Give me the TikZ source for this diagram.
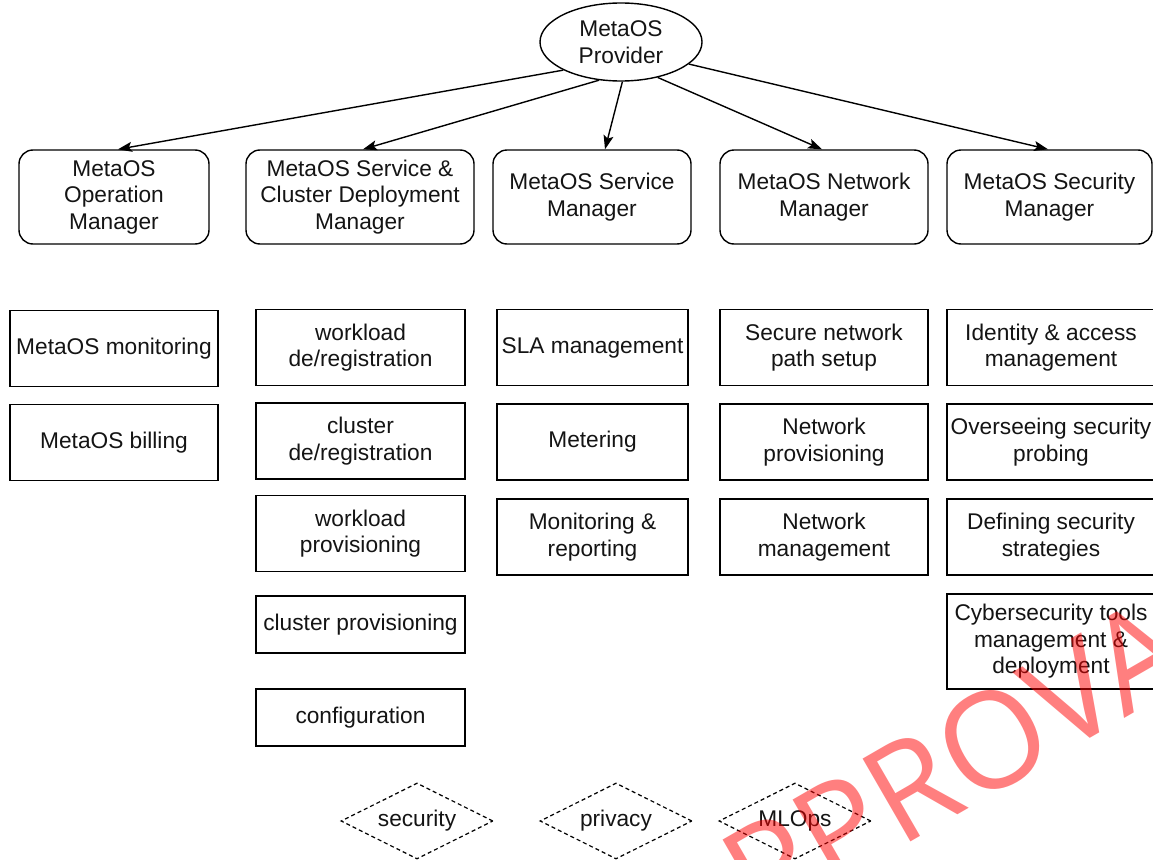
\documentclass[tikz,border=0pt]{standalone}
\usepackage{fontspec}
\setmainfont{Liberation Sans}
\newfontfamily\wmfont{Open Sans}
\usetikzlibrary{shapes.geometric,arrows.meta,calc}

\begin{document}
\begin{tikzpicture}[x=1pt,y=-1pt,
  every node/.style={font=\fontsize{22.7}{26.5}\selectfont, align=center,
    inner sep=0pt, text=black!92},
  mgr/.style={draw, line width=1.4pt, rounded corners=14pt, minimum height=94pt},
  task/.style={draw, line width=1.4pt, minimum height=76pt},
  tag/.style={draw, diamond, shape aspect=2, line width=1.2pt,
    dash pattern=on 4pt off 3pt, minimum width=152pt, minimum height=76pt},
  arr/.style={line width=1.4pt, -{Stealth[length=14pt,width=10pt,inset=3pt]}},
  stamp/.style={text=red, opacity=0.5,
    font=\wmfont\fontsize{134}{134}\selectfont}
]
\useasboundingbox (0,0) rectangle (1153,859);
\clip (0,0) rectangle (1153,859);
\fill[white] (0,0) rectangle (1153,859);

% root
\node[draw, ellipse, line width=1.4pt, minimum width=162pt, minimum height=78pt]
  (prov) at (621,42) {MetaOS\\Provider};

% managers
\node[mgr, minimum width=190pt] (om)   at (114,197)    {MetaOS\\Operation\\Manager};
\node[mgr, minimum width=228pt] (sd)   at (360,197)    {MetaOS Service \&\\Cluster Deployment\\Manager};
\node[mgr, minimum width=198pt] (sm)   at (592,197)    {MetaOS Service\\Manager};
\node[mgr, minimum width=208pt] (nm)   at (824,197)    {MetaOS Network\\Manager};
\node[mgr, minimum width=205pt] (secm) at (1049.5,197) {MetaOS Security\\Manager};

% root to managers
\draw[arr] (prov.206) -- ($(om.north)+(4,0)$);
\draw[arr] (prov.240) -- ($(sd.north)+(3,0)$);
\draw[arr] (prov.272) -- ($(sm.north)+(13,0)$);
\draw[arr] (prov.316) -- ($(nm.north)+(-2,0)$);
\draw[arr] (prov.342) -- ($(secm.north)+(-1.5,0)$);

% operation tasks
\node[task, minimum width=208pt] (om1) at (114,348.5) {MetaOS monitoring};
\node[task, minimum width=208pt] (om2) at (114,442.5) {MetaOS billing};

% service & cluster deployment tasks
\node[task, minimum width=209pt] (sd1) at (360.5,347.5) {workload\\de/registration};
\node[task, minimum width=209pt] (sd2) at (360.5,441)   {cluster\\de/registration};
\node[task, minimum width=209pt] (sd3) at (360.5,533.5) {workload\\provisioning};
\node[task, minimum width=209pt, minimum height=57pt] (sd4) at (360.5,624.5) {cluster provisioning};
\node[task, minimum width=209pt, minimum height=57pt] (sd5) at (360.5,717.5) {configuration};

% service tasks
\node[task, minimum width=191pt] (sm1) at (592.5,347.5) {SLA management};
\node[task, minimum width=191pt] (sm2) at (592.5,442)   {Metering};
\node[task, minimum width=191pt] (sm3) at (592.5,537)   {Monitoring \&\\reporting};

% network tasks
\node[task, minimum width=208pt] (nm1) at (824,347.5) {Secure network\\path setup};
\node[task, minimum width=208pt] (nm2) at (824,442)   {Network\\provisioning};
\node[task, minimum width=208pt] (nm3) at (824,537)   {Network\\management};

% security tasks
\node[task, minimum width=208pt] (sc1) at (1051,347.5) {Identity \& access\\management};
\node[task, minimum width=208pt] (sc2) at (1051,442)   {Overseeing security\\probing};
\node[task, minimum width=208pt] (sc3) at (1051,537)   {Defining security\\strategies};
\node[task, minimum width=208pt, minimum height=95pt] (sc4) at (1051,641.5)
  {Cybersecurity tools\\management \&\\deployment};

% cross-cutting concerns
\node[tag] (t1) at (417,821) {security};
\node[tag] (t2) at (616,821) {privacy};
\node[tag] (t3) at (795,821) {MLOps};

% stamp
\node[stamp, rotate=30, anchor=base west] (wm) at (686,972) {APPROVAL};
\end{tikzpicture}
\end{document}
